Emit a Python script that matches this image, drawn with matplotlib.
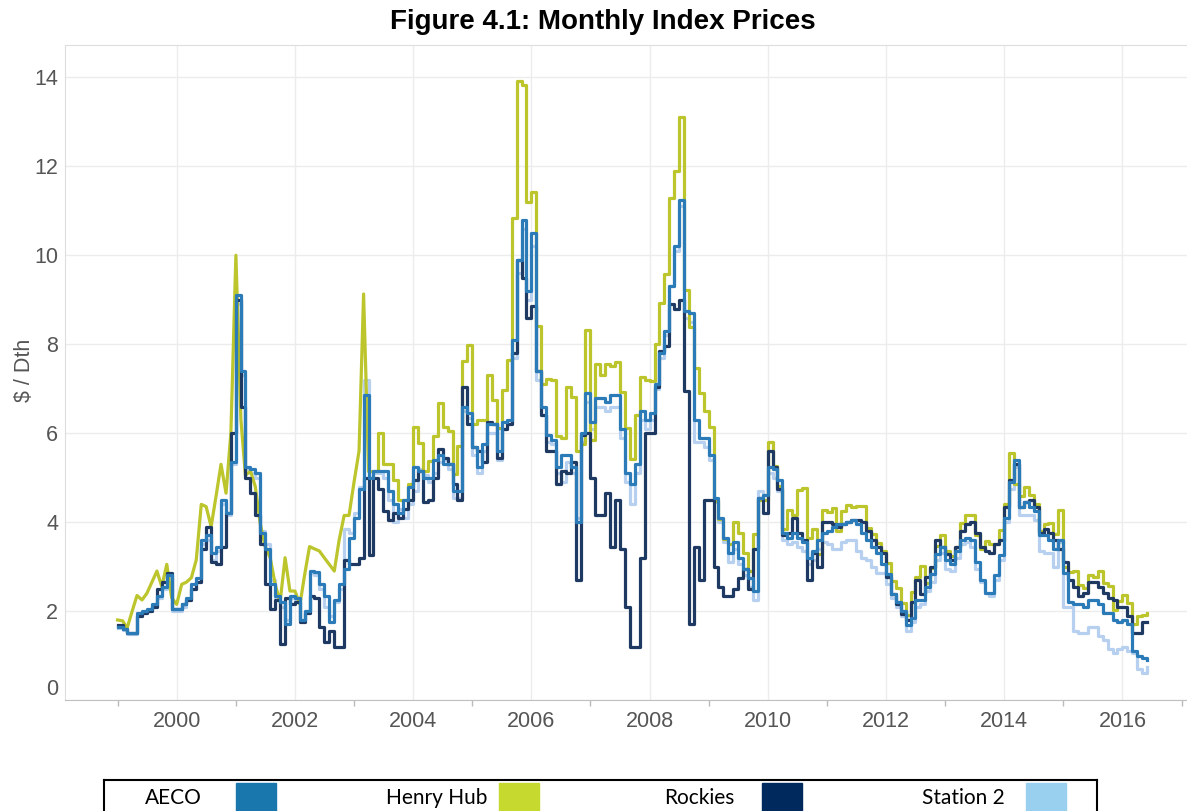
import pandas as pd
import matplotlib
matplotlib.use('Agg')
import matplotlib.pyplot as plt
import matplotlib.dates as mdates
from matplotlib.patches import Rectangle

# monthly index prices, Jan 1999 .. Jun 2016 ($/Dth)
months = pd.date_range('1999-01-01', periods=210, freq='MS')

aeco = [
    1.65, 1.60, 1.50, 1.50, 1.95, 2.00, 2.05, 2.15, 2.35, 2.55, 2.80, 2.05,   # 1999
    2.05, 2.15, 2.30, 2.60, 2.75, 3.60, 3.70, 3.30, 3.45, 4.50, 4.20, 5.35,   # 2000
    9.10, 7.40, 5.25, 5.20, 5.10, 3.75, 3.40, 2.60, 2.35, 2.20, 1.70, 2.35,   # 2001
    2.30, 1.80, 2.00, 2.90, 2.88, 2.60, 2.35, 1.75, 2.25, 2.60, 2.95, 3.65,   # 2002
    4.10, 4.75, 6.85, 5.00, 5.15, 5.15, 5.15, 4.70, 4.40, 4.20, 4.50, 4.80,   # 2003
    5.25, 5.15, 5.00, 5.00, 5.40, 5.50, 5.30, 5.30, 4.70, 4.70, 6.60, 6.45,   # 2004
    5.70, 5.25, 5.75, 6.20, 6.20, 5.60, 6.25, 6.30, 8.10, 9.90, 10.80, 9.20,  # 2005
    10.50, 7.40, 6.60, 5.95, 5.85, 5.25, 5.50, 5.50, 5.25, 4.00, 6.00, 6.90,  # 2006
    6.25, 6.80, 6.80, 6.70, 6.85, 6.85, 6.10, 5.10, 4.85, 5.30, 6.50, 6.30,   # 2007
    6.45, 7.10, 7.80, 8.30, 9.30, 10.20, 11.25, 8.75, 8.70, 6.30, 5.90, 5.90, # 2008
    5.50, 4.55, 4.10, 3.65, 3.30, 3.55, 3.20, 2.95, 2.75, 2.45, 4.55, 4.60,   # 2009
    5.25, 5.20, 4.95, 3.75, 3.65, 3.75, 3.65, 3.55, 3.20, 3.35, 3.60, 3.75,   # 2010
    3.80, 3.90, 3.95, 3.95, 4.00, 4.05, 3.95, 3.75, 3.60, 3.45, 3.30, 3.05,   # 2011
    2.84, 2.39, 2.20, 2.01, 1.68, 1.85, 2.24, 2.24, 2.54, 2.84, 3.29, 3.44,   # 2012
    3.15, 3.05, 3.35, 3.60, 3.65, 3.60, 3.10, 2.70, 2.40, 2.40, 2.80, 3.25,   # 2013
    4.10, 4.90, 5.40, 4.35, 4.45, 4.35, 4.25, 3.70, 3.70, 3.60, 3.40, 3.60,   # 2014
    2.85, 2.20, 2.15, 2.15, 2.10, 2.25, 2.25, 2.15, 1.95, 1.95, 1.80, 1.75,   # 2015
    1.80, 1.70, 1.10, 1.00, 0.95, 0.90,                                       # 2016
]

henry_hub = [
    1.80, 1.78, 1.62, 2.00, 2.35, 2.25, 2.40, 2.65, 2.90, 2.55, 3.05, 2.30,
    2.15, 2.60, 2.65, 2.75, 3.15, 4.40, 4.35, 3.90, 4.60, 5.30, 4.65, 6.00,
    10.00, 6.30, 5.05, 5.15, 4.80, 3.95, 3.45, 3.20, 2.60, 2.20, 3.20, 2.45,
    2.45, 2.15, 2.80, 3.45, 3.40, 3.35, 3.20, 3.05, 2.90, 3.60, 4.15, 4.15,
    4.90, 5.60, 9.13, 5.15, 5.15, 6.00, 5.30, 5.30, 4.95, 4.50, 4.50, 4.85,
    6.15, 5.77, 5.15, 5.37, 5.94, 6.68, 6.14, 6.05, 5.08, 5.72, 7.63, 7.98,
    6.21, 6.29, 6.30, 7.32, 6.75, 6.12, 6.98, 7.65, 10.85, 13.91, 13.83, 11.20,
    11.43, 8.40, 7.11, 7.23, 7.20, 5.93, 5.89, 7.04, 6.82, 5.60, 5.75, 8.32,
    5.84, 7.55, 7.31, 7.56, 7.51, 7.59, 6.93, 6.11, 5.43, 6.42, 7.27, 7.20,
    7.17, 8.00, 8.93, 9.58, 11.28, 11.89, 13.11, 9.22, 8.39, 7.47, 6.90, 6.50,
    6.14, 4.48, 4.06, 3.63, 3.50, 4.00, 3.75, 3.30, 2.90, 3.73, 4.50, 4.50,
    5.81, 5.27, 4.82, 3.84, 4.27, 4.16, 4.72, 4.77, 3.65, 3.84, 3.29, 4.27,
    4.22, 4.32, 3.79, 4.24, 4.38, 4.33, 4.36, 4.37, 3.86, 3.73, 3.52, 3.36,
    3.08, 2.68, 2.52, 2.19, 1.91, 2.43, 2.77, 3.01, 2.63, 2.97, 3.47, 3.70,
    3.35, 3.23, 3.43, 3.98, 4.15, 4.15, 3.71, 3.40, 3.57, 3.50, 3.50, 3.82,
    4.41, 5.56, 4.86, 4.58, 4.80, 4.62, 4.40, 3.81, 3.96, 3.98, 3.73, 4.28,
    2.99, 2.87, 2.90, 2.59, 2.51, 2.82, 2.77, 2.89, 2.64, 2.56, 2.03, 2.23,
    2.37, 2.19, 1.71, 1.90, 1.92, 1.96,
]

rockies = [
    1.68, 1.60, 1.50, 1.50, 1.90, 1.95, 2.00, 2.10, 2.50, 2.65, 2.85, 2.05,
    2.05, 2.15, 2.25, 2.50, 2.65, 3.40, 3.90, 3.10, 3.05, 3.45, 4.20, 6.00,
    9.00, 6.60, 5.00, 4.65, 4.15, 3.50, 2.60, 2.05, 2.25, 1.25, 2.30, 2.15,
    2.20, 1.75, 1.95, 2.35, 2.30, 1.65, 1.30, 1.55, 1.20, 1.20, 3.15, 3.05,
    3.05, 3.20, 5.00, 3.25, 5.00, 4.75, 4.25, 4.05, 4.20, 4.10, 4.30, 4.50,
    4.95, 5.15, 4.45, 4.50, 5.00, 5.65, 5.45, 5.30, 4.85, 4.50, 7.05, 6.20,
    5.70, 5.60, 5.35, 6.25, 6.20, 5.45, 6.10, 6.20, 7.80, 9.90, 9.50, 8.60,
    8.85, 7.40, 6.40, 5.60, 5.60, 4.85, 5.15, 5.10, 5.35, 2.70, 5.95, 6.00,
    5.00, 4.15, 4.15, 4.65, 3.45, 4.50, 3.40, 2.10, 1.20, 1.20, 3.20, 6.00,
    6.00, 7.05, 7.85, 7.95, 8.90, 8.80, 9.00, 6.95, 1.70, 3.45, 2.70, 4.50,
    4.50, 3.00, 2.55, 2.35, 2.35, 2.50, 2.75, 2.95, 2.50, 3.40, 4.55, 4.20,
    5.60, 5.25, 4.75, 3.70, 3.75, 4.10, 3.75, 3.60, 2.70, 3.30, 3.00, 4.00,
    4.00, 3.95, 3.90, 3.95, 4.00, 4.05, 4.05, 4.00, 3.80, 3.60, 3.45, 3.30,
    2.76, 2.39, 2.16, 1.94, 1.79, 2.20, 2.69, 2.39, 2.76, 3.00, 3.59, 3.44,
    3.29, 3.14, 3.44, 3.81, 3.95, 4.00, 3.75, 3.45, 3.35, 3.30, 3.50, 3.60,
    4.35, 4.95, 5.30, 4.35, 4.45, 4.50, 4.35, 3.75, 3.85, 3.75, 3.60, 3.40,
    3.10, 2.70, 2.55, 2.35, 2.40, 2.65, 2.65, 2.55, 2.40, 2.30, 2.25, 2.10,
    2.10, 1.90, 1.50, 1.50, 1.75, 1.75,
]

station2 = [
    1.62, 1.58, 1.48, 1.48, 1.90, 1.95, 2.00, 2.10, 2.30, 2.50, 2.75, 2.00,
    2.00, 2.10, 2.25, 2.50, 2.65, 3.50, 3.60, 3.15, 3.35, 4.40, 4.15, 5.30,
    8.90, 7.30, 5.20, 5.10, 5.00, 3.80, 3.50, 2.70, 2.30, 2.10, 1.80, 2.30,
    2.25, 1.80, 2.00, 2.85, 2.80, 2.50, 2.10, 1.90, 2.20, 2.50, 3.85, 3.75,
    4.20, 4.80, 7.20, 5.00, 5.10, 5.10, 5.00, 4.50, 4.00, 4.30, 4.10, 4.40,
    4.70, 5.20, 5.05, 4.90, 5.10, 5.35, 5.40, 5.20, 4.55, 4.55, 6.50, 6.35,
    5.50, 5.10, 5.60, 6.00, 6.00, 5.40, 6.10, 6.20, 7.70, 9.60, 10.60, 9.00,
    10.20, 7.20, 6.40, 5.80, 5.75, 5.10, 4.90, 5.35, 5.10, 4.10, 5.80, 6.70,
    6.10, 6.60, 6.60, 6.50, 6.60, 6.60, 5.90, 4.90, 4.40, 5.10, 6.30, 6.10,
    6.30, 7.00, 7.70, 8.20, 9.30, 10.10, 11.10, 8.60, 8.50, 5.80, 5.80, 5.70,
    5.40, 4.45, 4.00, 3.55, 3.10, 3.40, 3.05, 2.80, 2.55, 2.25, 4.70, 4.60,
    5.10, 5.00, 4.70, 3.60, 3.50, 3.55, 3.45, 3.35, 3.05, 3.15, 3.40, 3.55,
    3.50, 3.40, 3.40, 3.55, 3.60, 3.60, 3.35, 3.20, 3.15, 3.00, 2.85, 2.85,
    2.60, 2.30, 2.10, 1.90, 1.55, 1.75, 2.10, 2.15, 2.45, 2.65, 3.15, 3.30,
    2.95, 2.90, 3.20, 3.50, 3.55, 3.45, 2.95, 2.65, 2.40, 2.35, 2.70, 3.15,
    4.00, 4.75, 5.25, 4.15, 4.15, 4.15, 4.05, 3.35, 3.30, 3.30, 3.00, 3.55,
    2.10, 2.10, 1.55, 1.50, 1.50, 1.65, 1.65, 1.45, 1.35, 1.15, 1.05, 1.15,
    1.20, 1.10, 1.05, 0.70, 0.60, 0.75,
]

legend_names = ['AECO', 'Henry Hub', 'Rockies', 'Station 2']
legend_colors = ['#1a77ae', '#c6d92e', '#002a5e', '#99cfef']
line_colors = {'AECO': '#2b7bb8', 'Henry Hub': '#bcc52b',
               'Rockies': '#1e3a62', 'Station 2': '#b7d0ef'}

plt.rcParams['font.family'] = ['Liberation Sans', 'DejaVu Sans']

W, H = 1187, 811
fig = plt.figure(figsize=(W / 100, H / 100), dpi=100)
ax = fig.add_axes([65 / W, 1 - 700 / H, 1 - 65 / W, (700 - 45) / H])

lw = 2.3
ax.step(months, station2, where='post', color=line_colors['Station 2'], lw=lw, zorder=2)
# Henry Hub drawn as a plain line until Apr 2003, stepped after
hh_split = 51
ax.plot(months[:hh_split + 1], henry_hub[:hh_split + 1], color=line_colors['Henry Hub'], lw=lw, zorder=3)
ax.step(months[hh_split:], henry_hub[hh_split:], where='post', color=line_colors['Henry Hub'], lw=lw, zorder=3)
ax.step(months, rockies, where='post', color=line_colors['Rockies'], lw=lw, zorder=4)
ax.step(months, aeco, where='post', color=line_colors['AECO'], lw=lw, zorder=5)

ax.set_ylim(0, 14.73)
ax.set_yticks(range(0, 15, 2))
ax.set_xlim(pd.Timestamp('1998-02-10'), pd.Timestamp('2017-02-03'))
ax.xaxis.set_major_locator(mdates.YearLocator(2))
ax.xaxis.set_major_formatter(mdates.DateFormatter('%Y'))
ax.xaxis.set_minor_locator(mdates.YearLocator(1))

ax.grid(True, which='major', color='#ececec', lw=1)
ax.set_axisbelow(True)
ax.tick_params(axis='both', which='major', length=0, labelsize=15.5, labelcolor='#555555')
ax.tick_params(axis='x', which='major', pad=8)
ax.tick_params(axis='y', which='major', pad=5)
ax.tick_params(axis='x', which='minor', length=4, width=1, color='#bbbbbb')
ax.yaxis.get_major_ticks()[0].label1.set_verticalalignment('bottom')

for side in ['left', 'top']:
    ax.spines[side].set_color('#dddddd')
ax.spines['bottom'].set_color('#c0c0c0')
ax.spines['right'].set_visible(False)

fig.text(0.508, 0.973, 'Figure 4.1: Monthly Index Prices', ha='center', va='center',
         fontsize=20, fontweight='bold')
fig.text(25 / W, 1 - 370 / H, '\\$ / Dth', rotation=90, ha='center', va='center',
         fontsize=15.5, color='#555555')

# legend strip at the bottom
leg = fig.add_axes([104 / W, -0.02, (1097 - 104) / W, (811 - 780) / H + 0.02])
leg.set_xlim(104, 1097)
leg.set_ylim(827, 780)
leg.set_xticks([])
leg.set_yticks([])
for s in leg.spines.values():
    s.set_color('black')
    s.set_linewidth(1.5)
for i, (name, col) in enumerate(zip(legend_names, legend_colors)):
    leg.text(173 + i * 263.3, 798, name, ha='center', va='center', fontsize=15,
             family=['Lato', 'Liberation Sans', 'DejaVu Sans'])
    leg.add_patch(Rectangle((236 + i * 263.2, 783), 40, 50, color=col))

fig.savefig('out.png', dpi=100)
